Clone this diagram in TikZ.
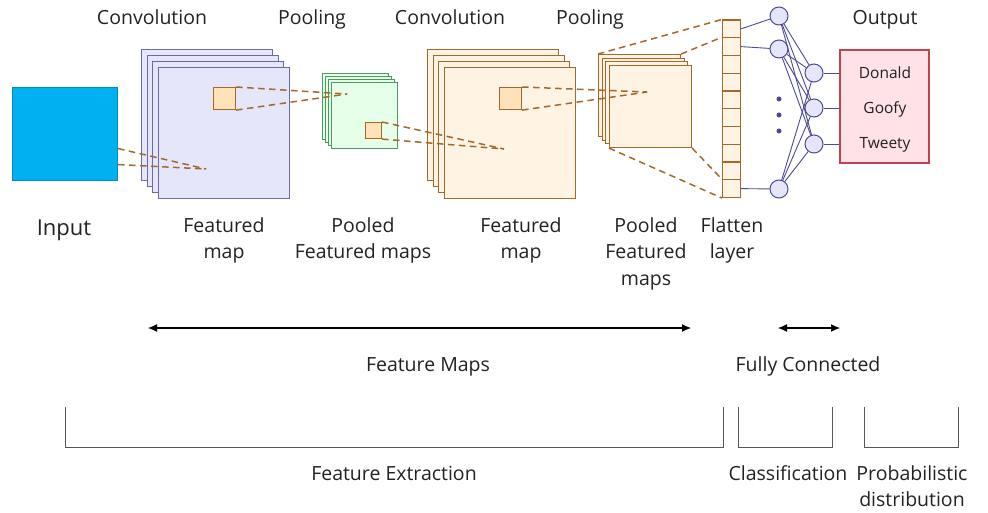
\documentclass[tikz,border=0pt]{standalone}
\usepackage{fontspec}
\setmainfont{Open Sans}
\usetikzlibrary{arrows.meta}
\definecolor{inblue}{HTML}{00B0F0}
\definecolor{lav}{HTML}{E6E6FA}
\definecolor{lavline}{HTML}{6A6AA8}
\definecolor{mint}{HTML}{E6FFE9}
\definecolor{mintline}{HTML}{4C9A60}
\definecolor{peach}{HTML}{FFF3E3}
\definecolor{peachdark}{HTML}{FFE2B8}
\definecolor{brownline}{HTML}{A4682C}
\definecolor{netline}{HTML}{4A4A96}
\definecolor{pinkbox}{HTML}{FFE1E8}
\definecolor{redline}{HTML}{C4424E}
\definecolor{brack}{HTML}{555555}
\definecolor{txt}{HTML}{222222}
\begin{document}
\begin{tikzpicture}[x=1pt,y=-1pt,
    map/.style={draw, line width=1.1pt, inner sep=0pt, anchor=north west, minimum size=#1},
    patch/.style={map=#1, fill=peachdark, draw=brownline},
    link/.style={draw=brownline, line width=1.5pt, dash pattern=on 6.5pt off 4.5pt},
    neuron/.style={circle, draw=netline, fill=lav, line width=1pt, minimum size=18pt, inner sep=0pt},
    net/.style={draw=netline, line width=0.9pt},
    lbl/.style={text=txt, inner sep=0pt, font=\fontsize{19.5}{26.5}\selectfont},
    brk/.style={draw=brack, line width=0.9pt}]
  \useasboundingbox (0,0) rectangle (988,512);
  % input
  \node[map=0pt, minimum width=105pt, minimum height=93pt, fill=inblue, draw=inblue!80!black] (in) at (12,87) {};
  % feature map stacks
  \foreach \i in {0,...,3}
    \node[map=131pt, fill=lav, draw=lavline] (cA\i) at (141+5.67*\i, 49+6*\i) {};
  \foreach \i in {0,...,3}
    \node[map=66pt, fill=mint, draw=mintline] (pA\i) at (322+3*\i, 73+3*\i) {};
  \foreach \i in {0,...,3}
    \node[map=131pt, fill=peach, draw=brownline] (cB\i) at (427+5.67*\i, 49+6*\i) {};
  \foreach \i in {0,...,3}
    \node[map=82pt, fill=peach, draw=brownline] (pB\i) at (598+3.67*\i, 54+3.67*\i) {};
  % small windows
  \node[patch=22pt] (wA) at (213,87) {};
  \node[patch=16pt] (wB) at (365,122) {};
  \node[patch=22pt] (wC) at (499,87) {};
  % flatten layer
  \foreach \i in {1,...,10}
    \node[draw=brownline, fill=peach, line width=1.1pt, inner sep=0pt, minimum width=18pt, minimum height=17.75pt]
      (fl\i) at (731.5, 11.125+17.75*\i) {};
  % focus points
  \coordinate (fA) at (206,169);
  \coordinate (fB) at (347,94);
  \coordinate (fC) at (504,149);
  \coordinate (fD) at (647,92);
  \draw[link] ([yshift=-14.5pt]in.east) -- (fA);
  \draw[link] ([yshift=-30.5pt]in.east) -- (fA);
  \draw[link] (wA.north east) -- (fB);
  \draw[link] (wA.south east) -- (fB);
  \draw[link] (wB.north east) -- (fC);
  \draw[link] (wB.south east) -- (fC);
  \draw[link] (wC.north east) -- (fD);
  \draw[link] (wC.south east) -- (fD);
  \draw[link] (pB0.north west) -- (fl1.north west);
  \draw[link] (pB0.north east) -- (fl2.north west);
  \draw[link] (pB3.south west) -- (fl10.south west);
  \draw[link] (pB3.south east) -- (fl10.north west);
  % fully connected part
  \node[neuron] (h1) at (779,16) {};
  \node[neuron] (h2) at (779,49) {};
  \node[neuron] (h3) at (779,189) {};
  \foreach \y [count=\k] in {99,115,131}
    \node[circle, fill=netline, minimum size=5pt, inner sep=0pt] (dot\k) at (779,\y) {};
  \node[neuron] (o1) at (814,73) {};
  \node[neuron] (o2) at (814,108) {};
  \node[neuron] (o3) at (814,144) {};
  \node[draw=redline, fill=pinkbox, line width=1.1pt, minimum width=89pt, minimum height=113pt, inner sep=0pt] (out) at (884.5,106.5) {};
  \draw[net] (fl1.east) -- (h1);
  \draw[net] (fl2.east) -- (h2);
  \draw[net] (fl10.east) -- (h3);
  \foreach \h in {h1,h2,h3}
    \foreach \o in {o1,o2,o3}
      \draw[net] (\h) -- (\o);
  \foreach \o in {o1,o2,o3}
    \draw[net] (\o) -- (out.west |- \o);
  \node[text=txt, anchor=base, font=\fontsize{15.5}{18}\selectfont] (cls1) at (885,78) {Donald};
  \node[text=txt, anchor=base, font=\fontsize{15.5}{18}\selectfont] (cls2) at (885,113) {Goofy};
  \node[text=txt, anchor=base, font=\fontsize{15.5}{18}\selectfont] (cls3) at (885,148) {Tweety};
  % titles
  \node[lbl, anchor=base] (tA) at (152,24) {Convolution};
  \node[lbl, anchor=base] (tB) at (312,24) {Pooling};
  \node[lbl, anchor=base] (tC) at (450,24) {Convolution};
  \node[lbl, anchor=base] (tD) at (590,24) {Pooling};
  \node[lbl, anchor=base] (tE) at (885,24) {Output};
  % captions
  \node[lbl, anchor=base, font=\fontsize{22}{26}\selectfont] (capIn) at (64,235) {Input};
  \node[lbl, anchor=north, align=center] (capA) at (224,217) {Featured\\map};
  \node[lbl, anchor=north, align=center] (capB) at (363,217) {Pooled\\Featured maps};
  \node[lbl, anchor=north, align=center] (capC) at (521,217) {Featured\\map};
  \node[lbl, anchor=north, align=center] (capD) at (646,217) {Pooled\\Featured\\maps};
  \node[lbl, anchor=north, align=center] (capE) at (732,217) {Flatten\\layer};
  % ranges
  \coordinate (mA) at (148,328);
  \coordinate (mB) at (691,328);
  \coordinate (mC) at (778,328);
  \coordinate (mD) at (840,328);
  \draw[line width=1.1pt, {Latex[length=9pt,width=8pt]}-{Latex[length=9pt,width=8pt]}] (mA) -- (mB);
  \draw[line width=1.1pt, {Latex[length=9pt,width=8pt]}-{Latex[length=9pt,width=8pt]}] (mC) -- (mD);
  \node[lbl, anchor=base] (rA) at (428,371) {Feature Maps};
  \node[lbl, anchor=base] (rB) at (808,371) {Fully Connected};
  \draw[brk] (65,407) -- (65,447) -- (723,447) -- (723,407);
  \draw[brk] (738,407) -- (738,447) -- (832,447) -- (832,407);
  \draw[brk] (864,407) -- (864,447) -- (958,447) -- (958,407);
  \node[lbl, anchor=base] (bA) at (394,480) {Feature Extraction};
  \node[lbl, anchor=base] (bB) at (788,480) {Classification};
  \node[lbl, anchor=north, align=center] (bC) at (912,465) {Probabilistic\\distribution};
\end{tikzpicture}
\end{document}
